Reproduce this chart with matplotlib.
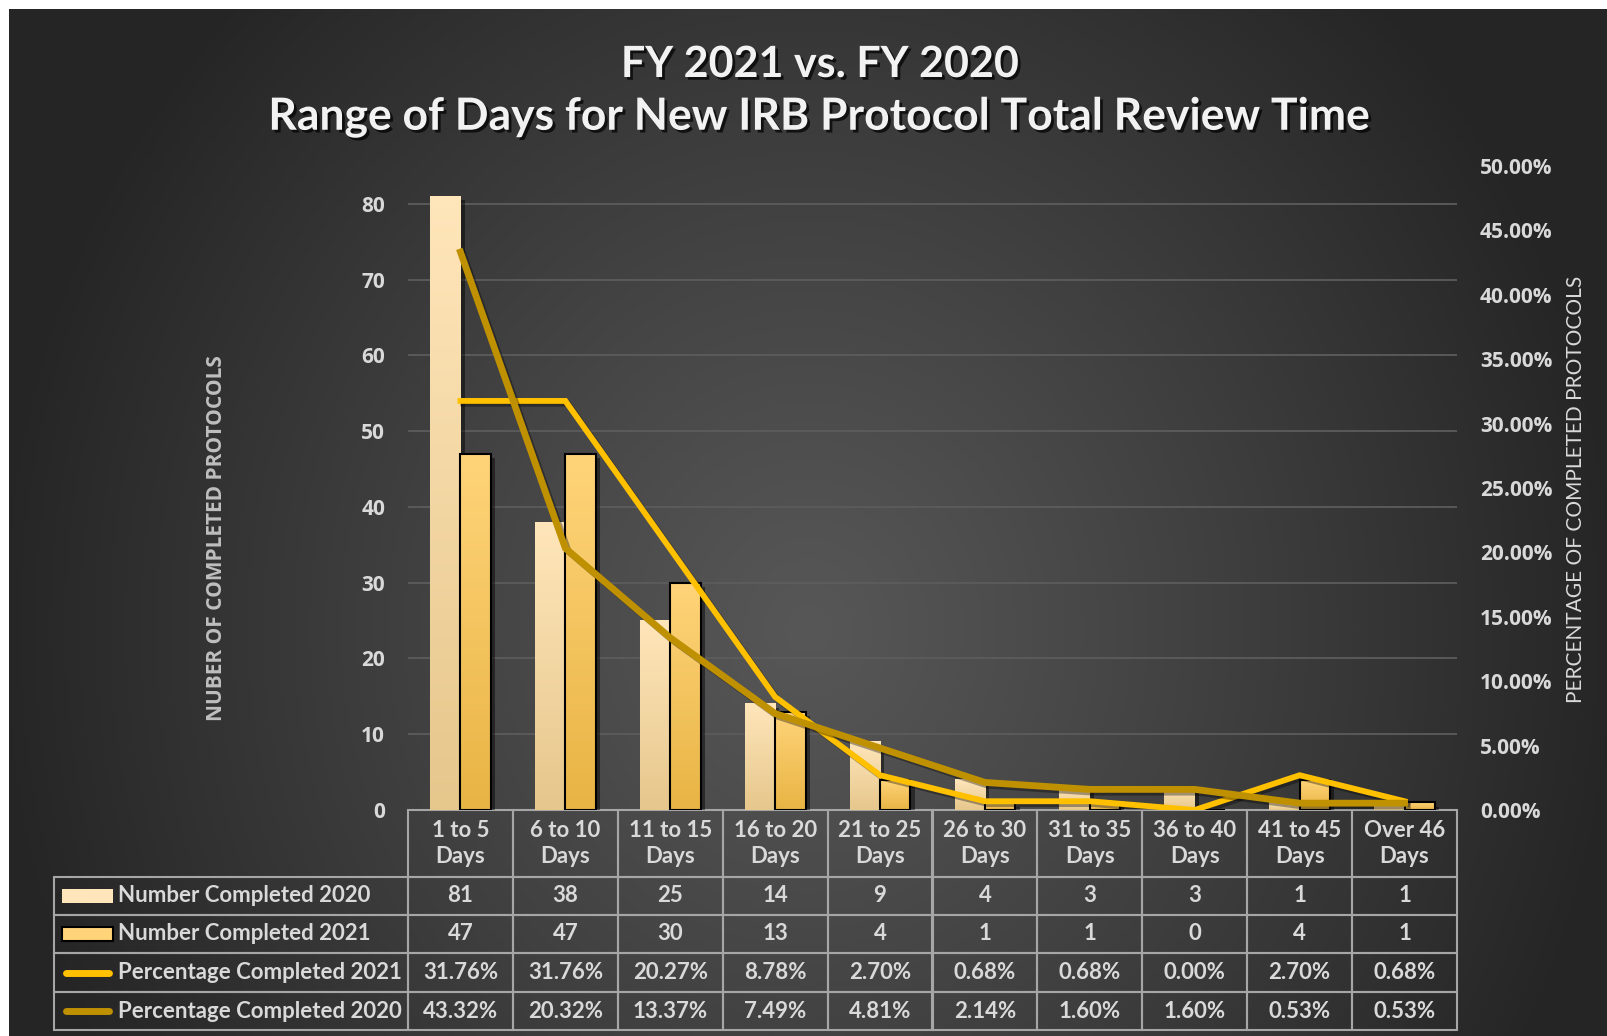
import numpy as np
import matplotlib
matplotlib.use("Agg")
import matplotlib.pyplot as plt
from matplotlib import font_manager
from matplotlib.table import Table
from matplotlib.patches import Rectangle
from matplotlib.lines import Line2D
import matplotlib.patheffects as pe

# data
categories = ["1 to 5\nDays", "6 to 10\nDays", "11 to 15\nDays", "16 to 20\nDays",
              "21 to 25\nDays", "26 to 30\nDays", "31 to 35\nDays", "36 to 40\nDays",
              "41 to 45\nDays", "Over 46\nDays"]
num_2020 = [81, 38, 25, 14, 9, 4, 3, 3, 1, 1]
num_2021 = [47, 47, 30, 13, 4, 1, 1, 0, 4, 1]
pct_2021 = [31.76, 31.76, 20.27, 8.78, 2.70, 0.68, 0.68, 0.00, 2.70, 0.68]
pct_2020 = [43.32, 20.32, 13.37, 7.49, 4.81, 2.14, 1.60, 1.60, 0.53, 0.53]
row_labels = ["Number Completed 2020", "Number Completed 2021",
              "Percentage Completed 2021", "Percentage Completed 2020"]
left_ticks = [0, 10, 20, 30, 40, 50, 60, 70, 80]
right_ticks = [0, 5, 10, 15, 20, 25, 30, 35, 40, 45, 50]

# colours
c2020_top, c2020_bot = "#FFE6BA", "#E6C78C"
c2021_top, c2021_bot = "#FFD479", "#E8B444"
c_line21 = "#FFC000"
c_line20 = "#BF9000"
txt = "#D9D9D9"

names = {f.name for f in font_manager.fontManager.ttflist}
narrow = "Liberation Sans Narrow" if "Liberation Sans Narrow" in names else "Lato"
wide = "Open Sans" if "Open Sans" in names else "DejaVu Sans"

W, H = 1608, 1036
fig = plt.figure(figsize=(W / 100, H / 100), dpi=100)
fig.patch.set_facecolor("white")

# radial background
bg = fig.add_axes([9 / W, 0, 1 - 9 / W, 1 - 9 / H])
gx, gy = np.meshgrid(np.linspace(0, 1599, 400), np.linspace(0, 1027, 260))
d = np.sqrt(((gx - 800) / 820) ** 2 + ((gy - 620) / 900) ** 2)
v = (0x57 - (0x57 - 0x25) * np.clip(d, 0, 1) ** 1.1) / 255
bg.imshow(np.dstack([v, v, v]), aspect="auto", extent=[0, 1, 0, 1], origin="upper")
bg.axis("off")

# main axes, in pixel layout
L, R, B, T = 408, 1457, 810, 166
ax = fig.add_axes([L / W, 1 - B / H, (R - L) / W, (B - T) / H])
ax.set_facecolor("none")
ax2 = ax.twinx()

x = np.arange(len(categories))
bw = 0.29


def grad_bar(xc, h, top, bot, edge, z):
    b = ax.bar(xc, h, bw, color=bot, edgecolor="none", zorder=z,
               path_effects=[pe.SimplePatchShadow(offset=(3, -3), shadow_rgbFace="black", alpha=0.45), pe.Normal()])
    if h > 0:
        g = np.linspace(0, 1, 64)[:, None]
        c1 = np.array(matplotlib.colors.to_rgb(top))
        c2 = np.array(matplotlib.colors.to_rgb(bot))
        img = c1[None, None, :] * (1 - g[..., None]) + c2[None, None, :] * g[..., None]
        ax.imshow(img, extent=[xc - bw / 2, xc + bw / 2, 0, h], aspect="auto",
                  origin="upper", zorder=z + 0.1, interpolation="bilinear")
    if edge:
        ax.bar(xc, h, bw, color="none", edgecolor="black", linewidth=1.5, zorder=z + 0.2)
    return b


for i in range(len(categories)):
    grad_bar(x[i] - bw / 2, num_2020[i], c2020_top, c2020_bot, False, 2)
    grad_bar(x[i] + bw / 2, num_2021[i], c2021_top, c2021_bot, True, 2)

ax.set_xlim(-0.5, len(categories) - 0.5)
ax.set_ylim(0, 85)
ax.set_yticks(left_ticks)
ax.set_xticks([])
for t in left_ticks[1:]:
    ax.axhline(t, color="#5C5C5C", lw=1.3, zorder=1)

shadow = [pe.SimpleLineShadow(offset=(2, -2), shadow_color="black", alpha=0.35), pe.Normal()]
ax2.plot(x, pct_2021, color=c_line21, lw=4.2, solid_joinstyle="miter", path_effects=shadow, zorder=5)
ax2.plot(x, pct_2020, color=c_line20, lw=4.9, solid_joinstyle="miter", path_effects=shadow, zorder=6)
ax2.set_ylim(0, 50)
ax2.set_yticks(right_ticks)
ax2.set_yticklabels([f"{t:.2f}%" for t in right_ticks])

for a in (ax, ax2):
    for s in a.spines.values():
        s.set_visible(False)
    a.tick_params(length=0, labelsize=15, labelcolor=txt, pad=16.5)
    for lab in a.get_yticklabels():
        lab.set_fontfamily(wide)
        lab.set_fontweight("bold")

fig.text(217 / W, 1 - 538 / H, "NUBER OF COMPLETED PROTOCOLS", rotation=90,
         ha="center", va="center", color="#BFBFBF", fontsize=15, fontweight="bold", family=wide)
fig.text(1576 / W, 1 - 489 / H, "PERCENTAGE OF COMPLETED PROTOCOLS", rotation=90,
         ha="center", va="center", color=txt, fontsize=15, family=narrow)

tshadow = [pe.SimplePatchShadow(offset=(2, -2), shadow_rgbFace="black", alpha=0.7), pe.Normal()]
fig.text(820 / W, 1 - 64 / H, "FY 2021 vs. FY 2020", ha="center", va="center",
         color="#F2F2F2", fontsize=31, fontweight="bold", family=narrow, path_effects=tshadow)
fig.text(820 / W, 1 - 117 / H, "Range of Days for New IRB Protocol Total Review Time", ha="center",
         va="center", color="#F2F2F2", fontsize=32, fontweight="bold", family=narrow, path_effects=tshadow)

# data table under the plot
tl, tb = 54, 1030
lab_w = L - tl
col_w = (R - L) / len(categories)
row_h = [67, 38, 38, 39, 38]
tbl = Table(ax, bbox=[(tl - L) / (R - L), -(tb - B) / (B - T), (R - tl) / (R - L), (tb - B) / (B - T)])
tbl.auto_set_font_size(False)
cell_rows = [num_2020, num_2021,
             [f"{p:.2f}%" for p in pct_2021], [f"{p:.2f}%" for p in pct_2020]]
for j, cat in enumerate(categories):
    c = tbl.add_cell(0, j + 1, width=col_w, height=row_h[0], text=cat, loc="center", facecolor="none")
    c.get_text().set_linespacing(1.3)
for i, lab in enumerate(row_labels):
    c = tbl.add_cell(i + 1, 0, width=lab_w, height=row_h[i + 1], text=lab, loc="left", facecolor="none")
    c.PAD = 64 / lab_w
    for j, val in enumerate(cell_rows[i]):
        tbl.add_cell(i + 1, j + 1, width=col_w, height=row_h[i + 1], text=str(val), loc="center", facecolor="none")
for cell in tbl.get_celld().values():
    cell.set_edgecolor("#A6A6A6")
    cell.set_linewidth(1.5)
    cell.get_text().set_color(txt)
    cell.get_text().set_fontsize(16)
    cell.get_text().set_fontweight("bold")
    cell.get_text().set_fontfamily(narrow)
ax.add_table(tbl)

# legend keys in the label column
def px2ax(px, py):
    return (px - L) / (R - L), (B - py) / (B - T)

ys = np.cumsum([B] + row_h)
for i in range(4):
    yc = (ys[i + 1] + ys[i + 2]) / 2
    x0, y0 = px2ax(62, yc + 7)
    x1, y1 = px2ax(113, yc - 7)
    if i < 2:
        fc = (c2020_top if i == 0 else c2021_top)
        ec = "none" if i == 0 else "black"
        ax.add_patch(Rectangle((x0, y0), x1 - x0, y1 - y0, transform=ax.transAxes, clip_on=False,
                               facecolor=fc, edgecolor=ec, lw=1.5))
    else:
        col = c_line21 if i == 2 else c_line20
        ym = px2ax(0, yc)[1]
        ax.add_line(Line2D([x0 + 0.004, x1 - 0.004], [ym, ym], transform=ax.transAxes, clip_on=False,
                           color=col, lw=5, solid_capstyle="round"))

fig.savefig("out.png", dpi=100, facecolor=fig.get_facecolor())
